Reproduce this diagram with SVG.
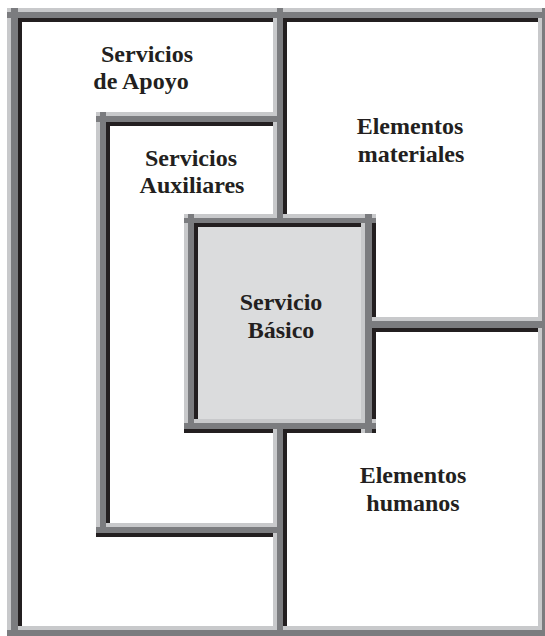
<svg xmlns="http://www.w3.org/2000/svg" width="545" height="636" viewBox="0 0 545 636">
<style>
.k{fill:#231f20}
.l{fill:#c8c9cb}
.g{fill:#7b7c7f}
.t{font-family:"Liberation Serif","Times New Roman",serif;font-weight:bold;font-size:24px;fill:#231f20;text-anchor:middle}
</style>
<rect x="0" y="0" width="545" height="636" fill="#ffffff"/>
<rect id="basico-fill" x="184" y="214" width="192" height="219" fill="#dbdcdd"/>
<g id="walls-dark">
<rect class="k" x="7" y="18" width="541" height="4"/>
<rect class="k" x="18" y="8" width="4" height="628"/>
<rect class="k" x="548" y="8" width="4" height="628"/>
<rect class="k" x="283" y="8" width="4" height="210"/>
<rect class="k" x="283" y="426" width="4" height="210"/>
<rect class="k" x="96" y="122" width="187" height="4"/>
<rect class="k" x="106" y="112" width="4" height="419"/>
<rect class="k" x="96" y="533" width="187" height="4"/>
<rect class="k" x="184" y="223" width="192" height="4"/>
<rect class="k" x="194" y="214" width="4" height="215"/>
<rect class="k" x="372" y="214" width="4" height="219"/>
<rect class="k" x="184" y="429" width="192" height="4"/>
<rect class="k" x="365" y="328" width="183" height="4"/>
</g>
<g id="walls-light">
<rect class="l" x="7" y="8" width="541" height="4"/>
<rect class="l" x="7" y="8" width="4" height="628"/>
<rect class="l" x="538" y="8" width="4" height="628"/>
<rect class="l" x="7" y="626" width="545" height="4"/>
<rect class="l" x="273" y="8" width="4" height="210"/>
<rect class="l" x="273" y="426" width="4" height="210"/>
<rect class="l" x="96" y="112" width="187" height="4"/>
<rect class="l" x="96" y="112" width="4" height="419"/>
<rect class="l" x="96" y="523" width="187" height="4"/>
<rect class="l" x="184" y="214" width="192" height="4"/>
<rect class="l" x="184" y="214" width="4" height="215"/>
<rect class="l" x="361" y="214" width="4" height="219"/>
<rect class="l" x="184" y="419" width="192" height="4"/>
<rect class="l" x="365" y="317" width="183" height="4"/>
</g>
<g id="walls-mid">
<rect class="g" x="7" y="12" width="541" height="6"/>
<rect class="g" x="11" y="8" width="7" height="628"/>
<rect class="g" x="542" y="8" width="6" height="628"/>
<rect class="g" x="7" y="630" width="545" height="6"/>
<rect class="g" x="277" y="8" width="6" height="210"/>
<rect class="g" x="277" y="426" width="6" height="210"/>
<rect class="g" x="96" y="116" width="187" height="6"/>
<rect class="g" x="100" y="112" width="6" height="419"/>
<rect class="g" x="96" y="527" width="187" height="6"/>
<rect class="g" x="184" y="218" width="192" height="5"/>
<rect class="g" x="188" y="214" width="6" height="215"/>
<rect class="g" x="365" y="214" width="7" height="219"/>
<rect class="g" x="184" y="423" width="192" height="6"/>
<rect class="g" x="365" y="321" width="183" height="7"/>
</g>
<g id="servicios-apoyo"><text class="t" x="147" y="62">Servicios</text><text class="t" x="141" y="89">de Apoyo</text></g>
<g id="elementos-materiales"><text class="t" x="410" y="134">Elementos</text><text class="t" x="411" y="162">materiales</text></g>
<g id="servicios-auxiliares"><text class="t" x="191" y="166">Servicios</text><text class="t" x="192" y="193">Auxiliares</text></g>
<g id="servicio-basico"><text class="t" x="281" y="310">Servicio</text><text class="t" x="281" y="338">Básico</text></g>
<g id="elementos-humanos"><text class="t" x="413" y="483">Elementos</text><text class="t" x="413" y="511">humanos</text></g>
</svg>
